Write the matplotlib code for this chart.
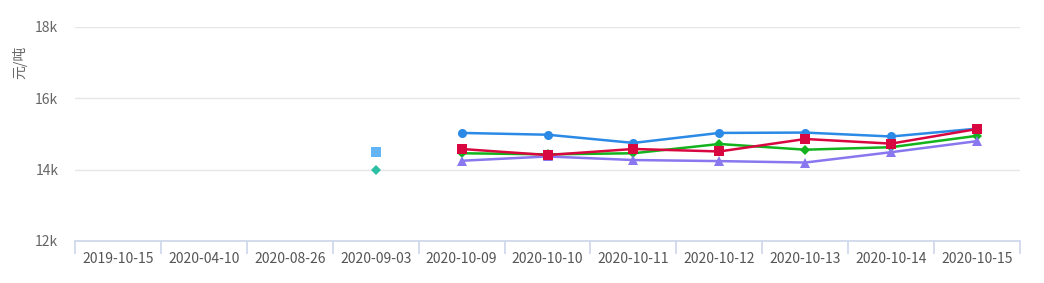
"""
Price chart -- six quote series by date, yuan per tonne.
"""

import matplotlib
matplotlib.use("Agg")
import matplotlib.pyplot as plt
import numpy as np

plt.rcParams["font.family"] = ["Noto Sans CJK SC", "DejaVu Sans"]

dates = ["2019-10-15", "2020-04-10", "2020-08-26", "2020-09-03", "2020-10-09",
         "2020-10-10", "2020-10-11", "2020-10-12", "2020-10-13", "2020-10-14",
         "2020-10-15"]

nan = np.nan
blue_vals   = [nan, nan, nan, nan, 15030, 14980, 14750, 15030, 15040, 14930, 15150]
red_vals    = [nan, nan, nan, nan, 14580, 14410, 14580, 14510, 14860, 14730, 15140]
green_vals  = [nan, nan, nan, nan, 14460, 14430, 14460, 14720, 14560, 14630, 14950]
purple_vals = [nan, nan, nan, nan, 14250, 14370, 14270, 14240, 14200, 14490, 14800]
sky_vals    = [nan, nan, nan, 14500, nan, nan, nan, nan, nan, nan, nan]
teal_vals   = [nan, nan, nan, 14000, nan, nan, nan, nan, nan, nan, nan]

y_ticks = [12000, 14000, 16000, 18000]
y_labels = ["12k", "14k", "16k", "18k"]

BLUE   = "#2b8ae6"
RED    = "#d9073f"
GREEN  = "#12b31c"
PURPLE = "#8877ee"
SKY    = "#62b4f5"
TEAL   = "#2bbfa3"

fig = plt.figure(figsize=(10.44, 2.83), dpi=100)
ax = fig.add_axes([75 / 1044, 1 - 241 / 283, 945 / 1044, 214 / 283])

x = np.arange(len(dates))
series = [
    (blue_vals,   BLUE,   "o", 6.5),
    (green_vals,  GREEN,  "D", 5),
    (purple_vals, PURPLE, "^", 6.5),
    (red_vals,    RED,    "s", 7),
    (sky_vals,    SKY,    "s", 6.5),
    (teal_vals,   TEAL,   "D", 5.5),
]
for vals, color, marker, ms in series:
    ax.plot(x, vals, color=color, marker=marker, markersize=ms, linewidth=1.8,
            markeredgewidth=0, zorder=3)

ax.set_xlim(-0.5, len(dates) - 0.5)
ax.set_ylim(12000, 18000)
ax.set_yticks(y_ticks)
ax.set_yticklabels(y_labels)
ax.set_xticks(x)
ax.set_xticklabels(dates)

ax.grid(True, axis="y", color="#e6e6e6", linewidth=1.0)
ax.set_axisbelow(True)
for side in ("top", "right", "left"):
    ax.spines[side].set_visible(False)
ax.spines["bottom"].set_color("#ccd6eb")
ax.spines["bottom"].set_linewidth(1.2)

ax.tick_params(axis="y", length=0, pad=12, labelsize=10, labelcolor="#666666")
ax.tick_params(axis="x", length=0, pad=8, labelsize=10, labelcolor="#555555")
# category boundary ticks
ax.set_xticks(np.arange(-0.5, len(dates)), minor=True)
ax.tick_params(axis="x", which="minor", length=9, width=1.2, color="#ccd6eb")

ax.set_ylabel("元/吨", fontsize=10, color="#666666")
ax.yaxis.set_label_coords(-0.050, 0.836)

fig.savefig("out.png", dpi=100)
plt.close(fig)
